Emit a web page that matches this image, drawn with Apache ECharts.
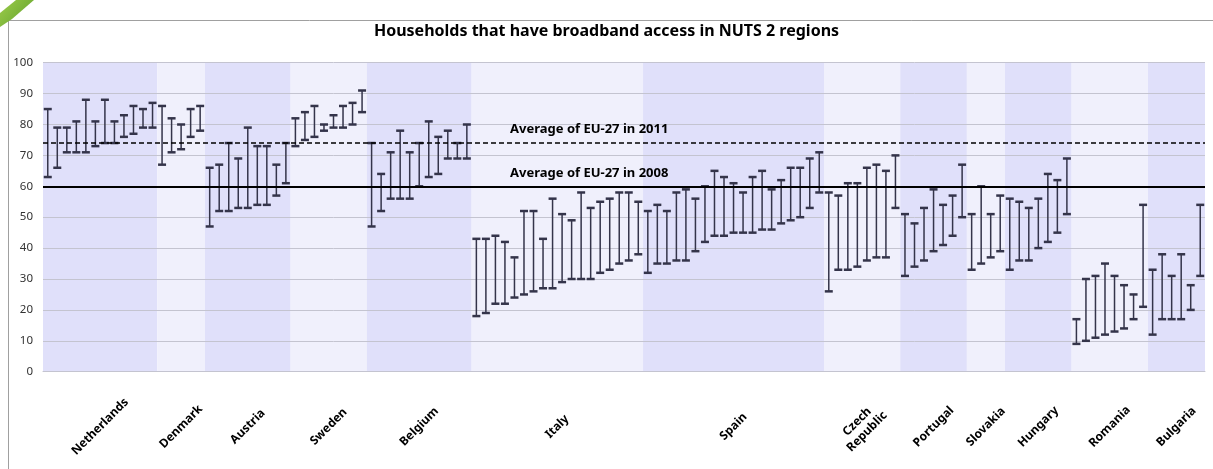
<!DOCTYPE html>
<html><head><meta charset="utf-8">
<script src="https://cdn.jsdelivr.net/npm/echarts@6/dist/echarts.min.js"></script>
<style>html,body{margin:0;padding:0;background:#fff}#c{width:1213px;height:469px}</style>
</head><body><div id="c"></div>
<script>
// ---- data ----
const countries = ['Netherlands','Denmark','Austria','Sweden','Belgium','Italy','Spain','Czech\nRepublic','Portugal','Slovakia','Hungary','Romania','Bulgaria'];
const regionCounts = [12,5,9,8,11,18,19,8,7,4,7,8,6];
// low end of each bar (2008) and high end (2011), one value per NUTS 2 region, in order
const low2008 = [
  63,66,71,71,71,73,74,74,76,77,79,79,
  67,71,72,76,78,
  47,52,52,53,53,54,54,57,61,
  73,75,76,78,79,79,80,84,
  47,52,56,56,56,60,63,64,69,69,69,
  18,19,22,22,24,25,26,27,27,29,30,30,30,32,33,35,36,38,
  32,35,35,36,36,39,42,44,44,45,45,45,46,46,48,49,50,53,58,
  26,33,33,34,36,37,37,53,
  31,34,36,39,41,44,50,
  33,35,37,39,
  33,36,36,40,42,45,51,
  9,10,11,12,13,14,17,21,
  12,17,17,17,20,31
];
const high2011 = [
  85,79,79,81,88,81,88,81,83,86,85,87,
  86,82,80,85,86,
  66,67,74,69,79,73,73,67,74,
  82,84,86,80,83,86,87,91,
  74,64,71,78,71,74,81,76,78,74,80,
  43,43,44,42,37,52,52,43,56,51,49,58,53,55,56,58,58,55,
  52,54,52,58,59,56,60,65,63,61,58,63,65,59,62,66,66,69,71,
  58,57,61,61,66,67,65,70,
  51,48,53,59,54,57,67,
  51,60,51,57,
  56,55,53,56,64,62,69,
  17,30,31,35,31,28,25,54,
  33,38,31,38,28,54
];
const avgEU27 = [
  { label: 'Average of EU-27 in 2011', value: 74, dashed: true },
  { label: 'Average of EU-27 in 2008', value: 60, dashed: false }
];
const yMin = 0, yMax = 100, yStep = 10;
const title = 'Households that have broadband access in NUTS 2 regions';

// ---- derived ----
const total = regionCounts.reduce((a, b) => a + b, 0);
const bands = [];
const centers = [];
let acc = 0;
regionCounts.forEach((n, i) => {
  bands.push([acc, acc + n]);
  centers.push(acc + n / 2);
  acc += n;
});
const barData = low2008.map((lo, i) => [i + 0.5, lo, high2011[i]]);
const bandColors = ['#e0e0fa', '#f0f0fc'];
const FONT = 'Noto Sans';

const chart = echarts.init(document.getElementById('c'), null, { renderer: 'canvas' });
chart.setOption({
  animation: false,
  backgroundColor: '#fff',
  textStyle: { fontFamily: FONT },
  title: {
    text: title, left: 'center', top: 18,
    textStyle: { fontFamily: FONT, fontWeight: 'bold', fontSize: 16, color: '#000' }
  },
  graphic: [
    { type: 'polyline', silent: true, z: 100,
      shape: { points: [[8.5, 469], [8.5, 20.5], [1213, 20.5]] },
      style: { stroke: '#a0a0a0', lineWidth: 1, fill: null } },
    { type: 'polygon', silent: true, z: 101,
      shape: { points: [[16, 0], [34, 0], [12, 19], [0, 27], [0, 13]] },
      style: { fill: new echarts.graphic.LinearGradient(0, 0, 1, 1, [
        { offset: 0, color: '#9ccc4a' }, { offset: 1, color: '#5f9f2c' }]) } }
  ],
  grid: { left: 43, right: 8, top: 62.7, bottom: 97.3, containLabel: false },
  xAxis: {
    type: 'value', min: 0, max: total, z: 2,
    splitLine: { show: false },
    axisLine: { show: true, lineStyle: { color: '#c4c4d0', width: 1 } },
    axisTick: { show: false },
    axisLabel: {
      customValues: centers,
      rotate: 45, align: 'center', verticalAlign: 'middle', margin: 55,
      fontFamily: FONT, fontSize: 12, fontWeight: 'bold', color: '#000', lineHeight: 14,
      formatter: (v) => {
        const i = centers.findIndex(c => Math.abs(c - v) < 1e-6);
        return i >= 0 ? countries[i] : '';
      }
    }
  },
  yAxis: {
    type: 'value', min: yMin, max: yMax, interval: yStep, z: 2,
    axisLine: { show: false }, axisTick: { show: false },
    axisLabel: { fontFamily: FONT, fontSize: 11.5, color: '#333', margin: 10 },
    splitLine: { lineStyle: { color: '#c4c4d0', width: 1 } }
  },
  series: [
    {
      type: 'line', data: [], z: 1, silent: true,
      markArea: {
        silent: true,
        data: bands.map((b, i) => [
          { xAxis: b[0], yAxis: yMin, itemStyle: { color: bandColors[i % 2] } },
          { xAxis: b[1], yAxis: yMax }
        ])
      }
    },
    {
      type: 'custom', z: 3, silent: true,
      data: barData,
      encode: { x: 0, y: [1, 2] },
      renderItem: (params, api) => {
        const x = api.value(0);
        const pTop = api.coord([x, api.value(2)]);
        const pBot = api.coord([x, api.value(1)]);
        const hw = 4;
        const col = '#34344a';
        return {
          type: 'group',
          children: [
            { type: 'line', shape: { x1: pTop[0], y1: pTop[1], x2: pBot[0], y2: pBot[1] }, style: { stroke: col, lineWidth: 1.5 } },
            { type: 'line', shape: { x1: pTop[0] - hw, y1: pTop[1], x2: pTop[0] + hw, y2: pTop[1] }, style: { stroke: col, lineWidth: 2.5 } },
            { type: 'line', shape: { x1: pBot[0] - hw, y1: pBot[1], x2: pBot[0] + hw, y2: pBot[1] }, style: { stroke: col, lineWidth: 2.5 } }
          ]
        };
      }
    },
    {
      type: 'line', data: [], z: 4, silent: true,
      markLine: {
        silent: true, symbol: 'none',
        data: avgEU27.map(a => ({
          yAxis: a.value,
          lineStyle: { color: '#000', width: a.dashed ? 1.5 : 2, type: a.dashed ? [5, 3] : 'solid' },
          label: {
            show: true, formatter: a.label, position: 'insideStartTop',
            distance: 5, offset: [462, -2],
            fontFamily: FONT, fontSize: 13, fontWeight: 'bold', color: '#000'
          }
        }))
      }
    }
  ]
});
</script>
</body></html>
